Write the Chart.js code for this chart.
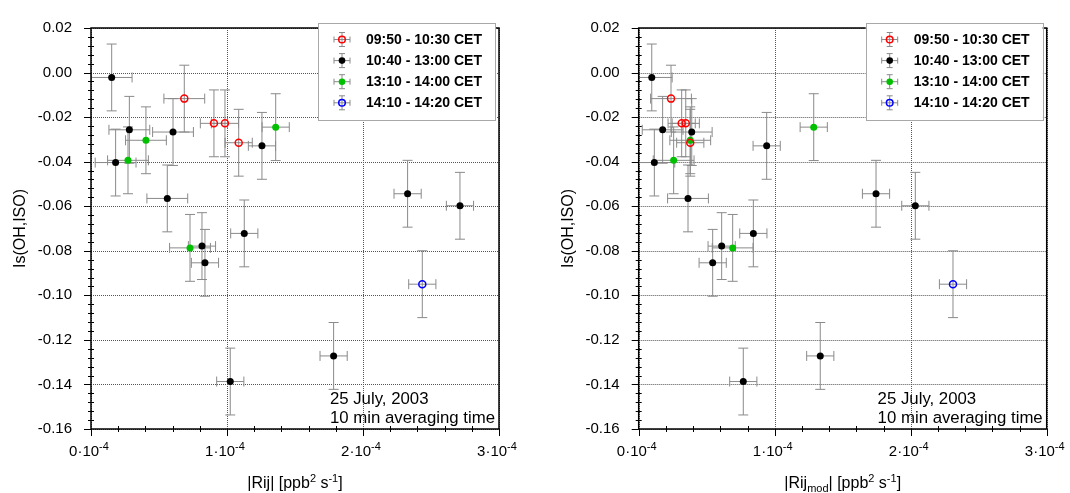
<!DOCTYPE html>
<html><head><meta charset="utf-8">
<script src="https://cdn.jsdelivr.net/npm/chart.js@4.4.0/dist/chart.umd.min.js"></script>
<style>
html,body{margin:0;padding:0;background:#fff;width:1070px;height:493px;overflow:hidden}
.box{position:absolute;top:0;width:535px;height:493px}
canvas{display:block}
</style></head><body>
<div class="box" style="left:0"><canvas id="c1" width="535" height="493"></canvas></div>
<div class="box" style="left:535px"><canvas id="c2" width="535" height="493"></canvas></div>
<script>
// ---------- data ----------
const seriesLabels = ['09:50 - 10:30 CET', '10:40 - 13:00 CET', '13:10 - 14:00 CET', '14:10 - 14:20 CET'];
const seriesColors = ['#ff0000', '#000000', '#00c000', '#0000ff'];
const seriesHollow = [true, false, false, true];

// Is(OH,ISO) values, |Rij|, |Rij_mod| and their errors, per time group
const isRed      = [-0.0117, -0.0228, -0.0228, -0.0315];
const rijRed     = [0.686e-4, 0.904e-4, 0.985e-4, 1.086e-4];
const rijModRed  = [0.2375e-4, 0.316e-4, 0.346e-4, 0.379e-4];
const rijErrRed  = [0.15e-4, 0.1e-4, 0.1e-4, 0.1e-4];
const isErrRed   = [0.015, 0.015, 0.015, 0.015];

const isBlack     = [-0.0022, -0.0257, -0.0267, -0.0329, -0.0404, -0.0544, -0.0565, -0.0598, -0.0722, -0.0779, -0.0854, -0.1272, -0.1387];
const rijBlack    = [0.152e-4, 0.282e-4, 0.603e-4, 1.257e-4, 0.181e-4, 2.328e-4, 0.561e-4, 2.713e-4, 1.127e-4, 0.816e-4, 0.838e-4, 1.784e-4, 1.024e-4];
const rijModBlack = [0.096e-4, 0.176e-4, 0.390e-4, 0.941e-4, 0.115e-4, 1.745e-4, 0.3625e-4, 2.034e-4, 0.843e-4, 0.610e-4, 0.544e-4, 1.335e-4, 0.769e-4];
const rijErrBlack = [0.15e-4, 0.15e-4, 0.15e-4, 0.1e-4, 0.15e-4, 0.1e-4, 0.15e-4, 0.1e-4, 0.1e-4, 0.1e-4, 0.1e-4, 0.1e-4, 0.1e-4];
const isErrBlack  = [0.015, 0.015, 0.015, 0.015, 0.015, 0.015, 0.015, 0.015, 0.015, 0.015, 0.015, 0.015, 0.015];

const isGreen     = [-0.0245, -0.0304, -0.0394, -0.0787];
const rijGreen    = [1.358e-4, 0.404e-4, 0.272e-4, 0.728e-4];
const rijModGreen = [1.287e-4, 0.379e-4, 0.257e-4, 0.691e-4];
const rijErrGreen = [0.1e-4, 0.15e-4, 0.15e-4, 0.15e-4];
const isErrGreen  = [0.015, 0.015, 0.015, 0.015];

const isBlue     = [-0.0950];
const rijBlue    = [2.436e-4];
const rijModBlue = [2.311e-4];
const rijErrBlue = [0.1e-4];
const isErrBlue  = [0.015];

const yTickValues = [-0.16, -0.14, -0.12, -0.10, -0.08, -0.06, -0.04, -0.02, 0.00, 0.02];
const yTickLabels = ['-0.16', '-0.14', '-0.12', '-0.10', '-0.08', '-0.06', '-0.04', '-0.02', '0.00', '0.02'];
const xTickValues = [0, 1e-4, 2e-4, 3e-4];
const xTickMantissa = ['0', '1', '2', '3'];
const xTickExponent = '-4';
const yTitle = 'Is(OH,ISO)';
const annotLines = ['25 July, 2003', '10 min averaging time'];

const groupsIs   = [isRed, isBlack, isGreen, isBlue];
const groupsIsE  = [isErrRed, isErrBlack, isErrGreen, isErrBlue];
const groupsRij  = [rijRed, rijBlack, rijGreen, rijBlue];
const groupsMod  = [rijModRed, rijModBlack, rijModGreen, rijModBlue];
const groupsRijE = [rijErrRed, rijErrBlack, rijErrGreen, rijErrBlue];

// ---------- drawing helpers ----------
const FONT = '"Liberation Sans", Arial, sans-serif';
function richWidth(ctx, parts) {
  let w = 0;
  for (const p of parts) { ctx.font = (p.s === 'n' ? p.size : p.small) + 'px ' + FONT; w += ctx.measureText(p.t).width; }
  return w;
}
function drawRich(ctx, parts, x, y) {
  let cx = x;
  ctx.textAlign = 'left'; ctx.textBaseline = 'alphabetic';
  for (const p of parts) {
    const isN = p.s === 'n';
    ctx.font = (isN ? p.size : p.small) + 'px ' + FONT;
    const dy = p.s === 'sup' ? -p.size * 0.4 : (p.s === 'sub' ? p.size * 0.25 : 0);
    ctx.fillText(p.t, cx, y + dy);
    cx += ctx.measureText(p.t).width;
  }
}
function mk(t, s, size, small) { return {t, s: s || 'n', size: size || 16, small: small || 11}; }

const decor = {
  id: 'decor',
  beforeDatasetsDraw(chart) {
    const {ctx, chartArea: a, scales: {x, y}} = chart;
    ctx.save();
    // dotted grid
    ctx.strokeStyle = '#555'; ctx.lineWidth = 1; ctx.setLineDash([1, 1]);
    for (const v of yTickValues) {
      const py = Math.round(y.getPixelForValue(v)) + 0.5;
      ctx.beginPath(); ctx.moveTo(a.left, py); ctx.lineTo(a.right, py); ctx.stroke();
    }
    for (const v of xTickValues) {
      const px = Math.round(x.getPixelForValue(v)) + 0.5;
      ctx.beginPath(); ctx.moveTo(px, a.top); ctx.lineTo(px, a.bottom); ctx.stroke();
    }
    ctx.setLineDash([]);
    // error bars
    ctx.beginPath(); ctx.rect(a.left, a.top, a.right - a.left, a.bottom - a.top); ctx.clip();
    ctx.strokeStyle = '#8a8a8a'; ctx.lineWidth = 1;
    const cap = 5;
    chart.data.datasets.forEach(ds => {
      ds.data.forEach(d => {
        const px = x.getPixelForValue(d.x), py = y.getPixelForValue(d.y);
        const x1 = x.getPixelForValue(d.x - d.xe), x2 = x.getPixelForValue(d.x + d.xe);
        const y1 = y.getPixelForValue(d.y + d.ye), y2 = y.getPixelForValue(d.y - d.ye);
        ctx.beginPath();
        ctx.moveTo(x1, py); ctx.lineTo(x2, py);
        ctx.moveTo(x1, py - cap); ctx.lineTo(x1, py + cap);
        ctx.moveTo(x2, py - cap); ctx.lineTo(x2, py + cap);
        ctx.moveTo(px, y1); ctx.lineTo(px, y2);
        ctx.moveTo(px - cap, y1); ctx.lineTo(px + cap, y1);
        ctx.moveTo(px - cap, y2); ctx.lineTo(px + cap, y2);
        ctx.stroke();
      });
    });
    ctx.restore();
  },
  afterDatasetsDraw(chart, args, opts) {
    const {ctx, chartArea: a, scales: {x, y}} = chart;
    ctx.save();
    // frame
    ctx.strokeStyle = '#000'; ctx.lineWidth = 1.5;
    ctx.strokeRect(a.left, a.top, a.right - a.left, a.bottom - a.top);
    // ticks
    ctx.lineWidth = 1;
    ctx.beginPath();
    for (let i = 0; i <= 45; i++) {
      const v = -0.16 + i * 0.004;
      const py = Math.round(y.getPixelForValue(v)) + 0.5;
      if (i % 5 === 0) { ctx.moveTo(a.left - 7, py); ctx.lineTo(a.left, py); }
      else { ctx.moveTo(a.left - 3, py); ctx.lineTo(a.left + 3, py); }
    }
    for (let i = 0; i <= 15; i++) {
      const v = i * 0.2e-4;
      const px = Math.round(x.getPixelForValue(v)) + 0.5;
      if (i % 5 === 0) { ctx.moveTo(px, a.bottom); ctx.lineTo(px, a.bottom + 7); }
      else { ctx.moveTo(px, a.bottom - 3); ctx.lineTo(px, a.bottom + 3); }
    }
    ctx.stroke();
    ctx.fillStyle = '#000';
    // x tick labels
    xTickValues.forEach((v, i) => {
      const parts = [mk(xTickMantissa[i] + '\u00b710', 'n', 15, 11), mk(xTickExponent, 'sup', 15, 11)];
      const w = richWidth(ctx, parts);
      drawRich(ctx, parts, x.getPixelForValue(v) - w / 2 - 2, 456);
    });
    // x title
    const tp = opts.xTitle;
    const tw = richWidth(ctx, tp);
    drawRich(ctx, tp, (a.left + a.right) / 2 - tw / 2, 488);
    // y title
    ctx.save();
    ctx.translate(a.left - 70, (a.top + a.bottom) / 2);
    ctx.rotate(-Math.PI / 2);
    ctx.font = '16px ' + FONT; ctx.textAlign = 'center'; ctx.textBaseline = 'middle';
    ctx.fillText(yTitle, 0, 0);
    ctx.restore();
    // annotation
    ctx.font = '16.8px ' + FONT; ctx.textAlign = 'left'; ctx.textBaseline = 'middle';
    const aw = ctx.measureText(annotLines[1]).width;
    const ax = a.right - 4 - aw;
    ctx.fillText(annotLines[0], ax, 399);
    ctx.fillText(annotLines[1], ax, 418);
    // legend
    const bx = a.right - 181, by = 23, bw = 177, bh = 97;
    ctx.fillStyle = '#fff'; ctx.fillRect(bx, by, bw, bh);
    ctx.strokeStyle = '#a8a8a8'; ctx.lineWidth = 1;
    ctx.strokeRect(Math.round(bx) + 0.5, by + 0.5, bw, bh);
    seriesLabels.forEach((lab, i) => {
      const ly = 39.5 + i * 21.1, mx = bx + 24;
      ctx.strokeStyle = '#8a8a8a'; ctx.lineWidth = 1;
      ctx.beginPath();
      ctx.moveTo(mx - 8, ly); ctx.lineTo(mx + 8, ly);
      ctx.moveTo(mx - 8, ly - 3); ctx.lineTo(mx - 8, ly + 3);
      ctx.moveTo(mx + 8, ly - 3); ctx.lineTo(mx + 8, ly + 3);
      ctx.moveTo(mx, ly - 7); ctx.lineTo(mx, ly + 7);
      ctx.moveTo(mx - 3, ly - 7); ctx.lineTo(mx + 3, ly - 7);
      ctx.moveTo(mx - 3, ly + 7); ctx.lineTo(mx + 3, ly + 7);
      ctx.stroke();
      ctx.beginPath(); ctx.arc(mx, ly, 3.3, 0, Math.PI * 2);
      if (seriesHollow[i]) { ctx.strokeStyle = seriesColors[i]; ctx.lineWidth = 1.5; ctx.stroke(); }
      else { ctx.fillStyle = seriesColors[i]; ctx.fill(); }
      ctx.fillStyle = '#000';
      ctx.font = 'bold 14px ' + FONT; ctx.textAlign = 'left'; ctx.textBaseline = 'middle';
      ctx.fillText(lab, bx + 48, ly + 0.5);
    });
    ctx.restore();
  }
};

function makeChart(id, xGroups, xTitle, padLeft, padRight) {
  const datasets = groupsIs.map((ys, i) => ({
    label: seriesLabels[i],
    data: ys.map((v, k) => ({x: xGroups[i][k], y: v, xe: groupsRijE[i][k], ye: groupsIsE[i][k]})),
    showLine: false,
    pointRadius: 3.5,
    pointHoverRadius: 3.5,
    pointBackgroundColor: seriesHollow[i] ? 'rgba(0,0,0,0)' : seriesColors[i],
    pointBorderColor: seriesColors[i],
    pointBorderWidth: seriesHollow[i] ? 1.5 : 0
  }));
  return new Chart(document.getElementById(id), {
    type: 'scatter',
    data: {datasets},
    options: {
      responsive: false, animation: false, devicePixelRatio: 1,
      layout: {padding: {left: padLeft, right: padRight, top: 21, bottom: 0}},
      plugins: {legend: {display: false}, tooltip: {enabled: false}, decor: {xTitle}},
      scales: {
        x: {
          type: 'linear', min: 0, max: 3e-4,
          grid: {display: false, drawTicks: false}, border: {display: false},
          ticks: {display: false},
          afterBuildTicks(s) { s.ticks = xTickValues.map(v => ({value: v})); },
          afterFit(s) { s.height = 64; }
        },
        y: {
          type: 'linear', min: -0.16, max: 0.02,
          grid: {display: false, drawTicks: false}, border: {display: false},
          ticks: {padding: 19, color: '#000', font: {family: FONT, size: 15},
                  callback: (v, i) => yTickLabels[i]},
          afterBuildTicks(s) { s.ticks = yTickValues.map(v => ({value: v})); },
          afterFit(s) { s.width = 80; }
        }
      }
    },
    plugins: [decor]
  });
}

makeChart('c1', groupsRij,
  [mk('|Rij| [ppb'), mk('2', 'sup'), mk(' s'), mk('-1', 'sup'), mk(']')], 11, 36);
makeChart('c2', groupsMod,
  [mk('|Rij'), mk('mod', 'sub'), mk('| [ppb'), mk('2', 'sup'), mk(' s'), mk('-1', 'sup'), mk(']')], 23.7, 23.3);
</script>
</body></html>
